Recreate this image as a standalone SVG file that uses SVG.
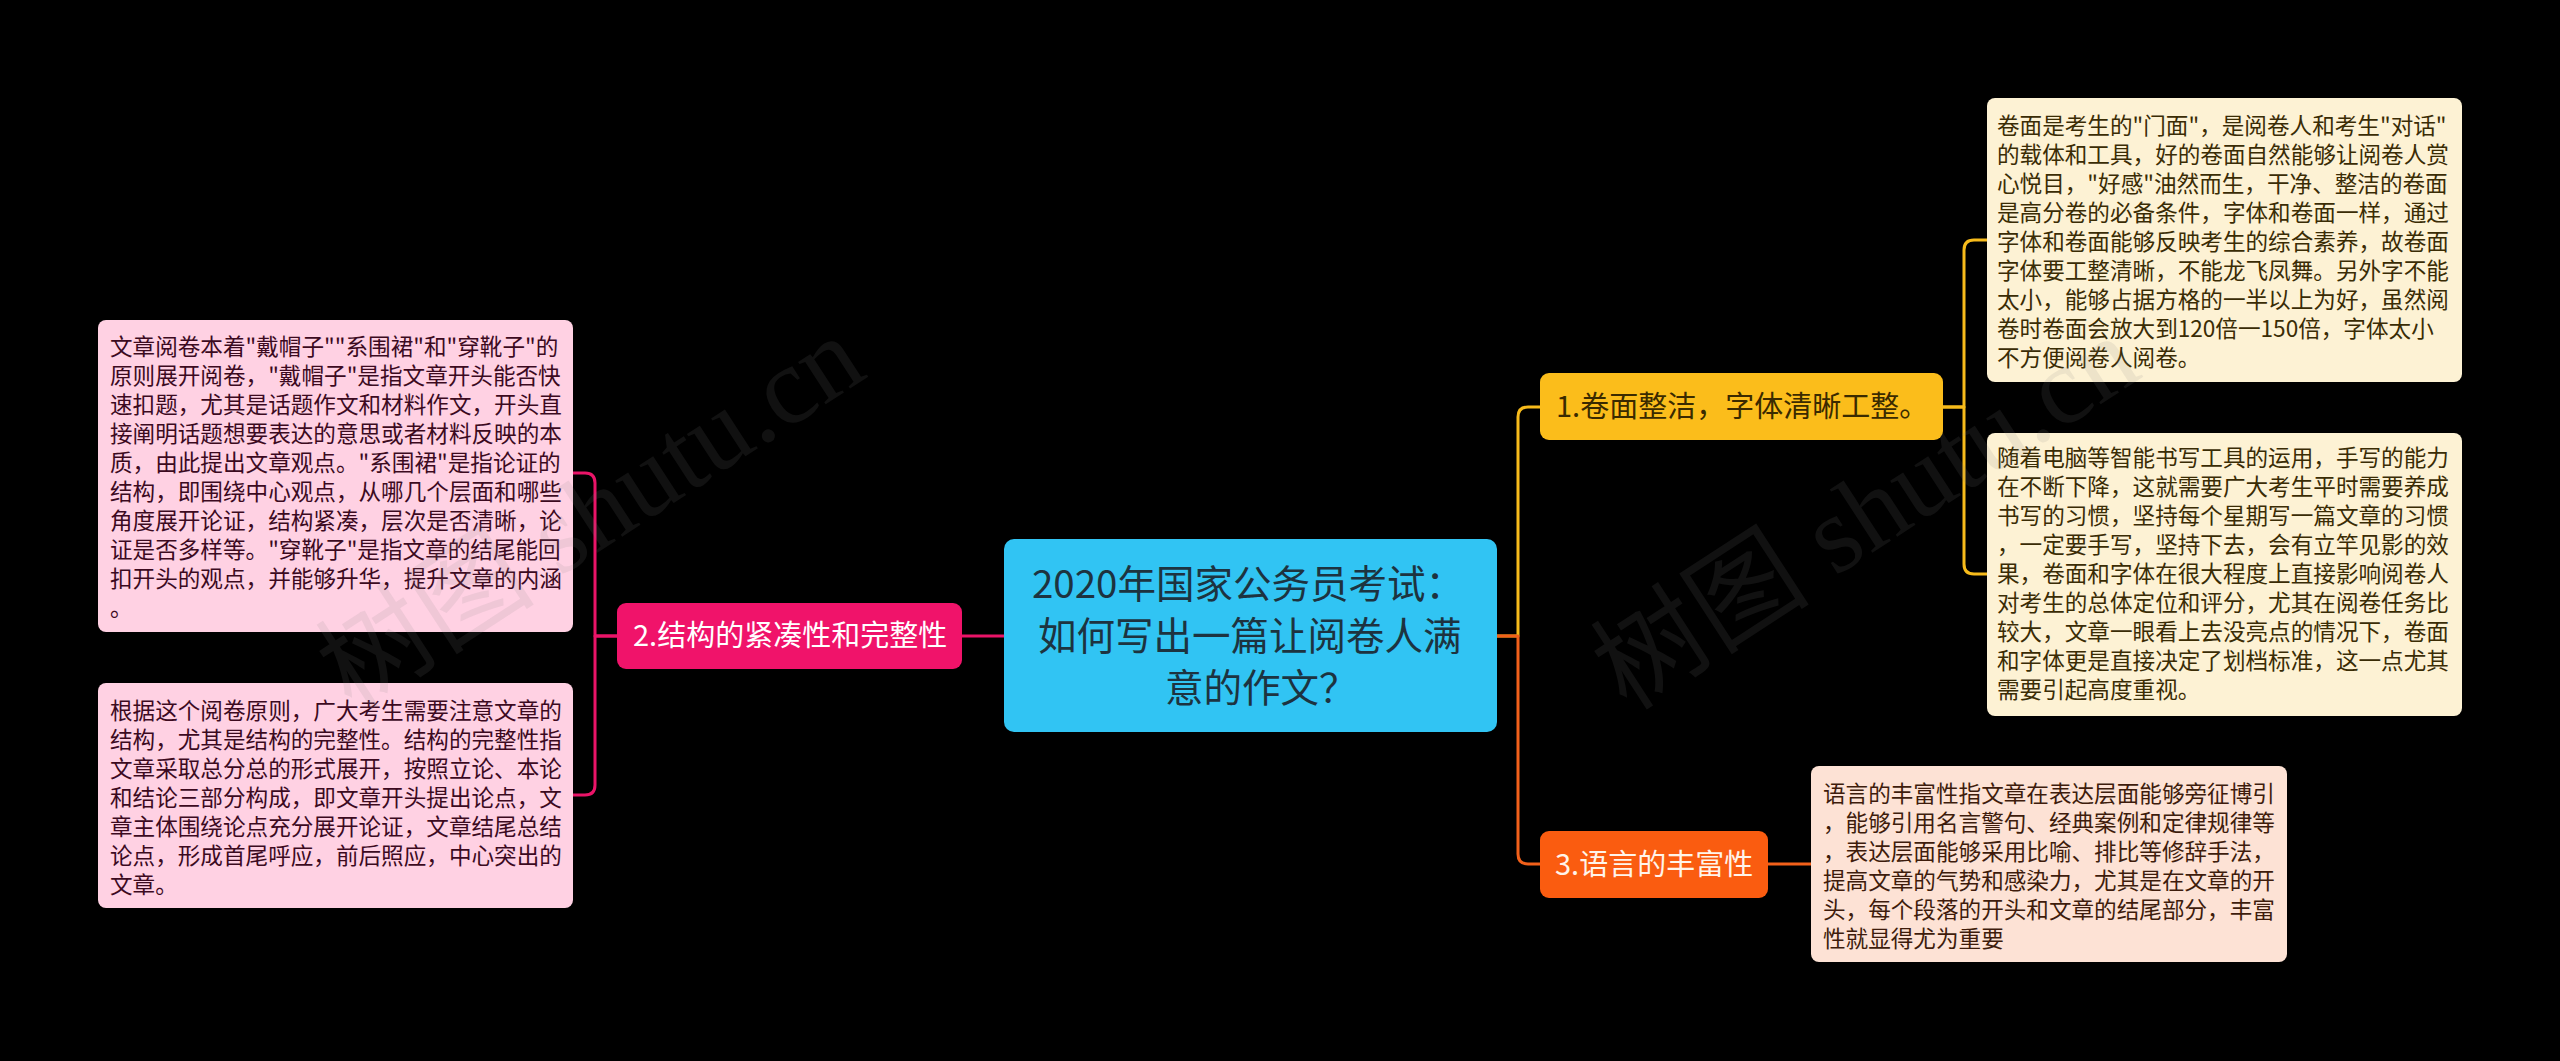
<svg xmlns="http://www.w3.org/2000/svg" width="2560" height="1061" viewBox="0 0 2560 1061">
<style>
text{font-family:"Noto Sans CJK SC","Noto Sans",sans-serif;}
.c{fill:none;stroke-width:3;stroke-linecap:round;stroke-linejoin:round;}
.y{stroke:#f7bb1b;}
.o{stroke:#f2601a;}
.p{stroke:#ea1468;}
.leaf{font-size:22.6px;}
.lp{fill:#3c0a1f;}
.ly{fill:#3a2c05;}
.lo{fill:#3e1c0c;}
.wm{font-family:"Liberation Serif","Noto Sans CJK SC",serif;font-size:110px;fill:#808080;fill-opacity:0.13;}
</style>
<rect x="0" y="0" width="2560" height="1061" fill="#000000"/>
<g id="connectors">
<path class="c y" d="M1497,636 H1518 V417 Q1518,407 1528,407 H1540"/>
<path class="c o" d="M1497,636 H1518 V854 Q1518,864 1528,864 H1540"/>
<path class="c p" d="M1004,636 H962"/>
<path class="c p" d="M617,636 H595 V483 Q595,473 585,473 H573"/>
<path class="c p" d="M617,636 H595 V785 Q595,795 585,795 H573"/>
<path class="c y" d="M1943,407 H1964 V250 Q1964,240 1974,240 H1987"/>
<path class="c y" d="M1943,407 H1964 V564 Q1964,574 1974,574 H1987"/>
<path class="c o" d="M1768,864 H1811"/>
</g>
<g id="center">
<rect x="1004" y="539" width="493" height="193" rx="10" fill="#31c4f3"/>
<text font-size="38.5" fill="#1d3340">
<tspan x="1032" y="598">2020年国家公务员考试：</tspan>
<tspan x="1038" y="650">如何写出一篇让阅卷人满</tspan>
<tspan x="1165" y="702">意的作文？</tspan>
</text>
</g>
<g id="node1">
<rect x="1540" y="373" width="403" height="67" rx="9" fill="#fbbd1b"/>
<text x="1556" y="417" font-size="29" fill="#3a2a00">1.卷面整洁，字体清晰工整。</text>
</g>
<g id="node2">
<rect x="617" y="603" width="345" height="66" rx="9" fill="#f0136a"/>
<text x="633" y="646" font-size="29" fill="#ffffff">2.结构的紧凑性和完整性</text>
</g>
<g id="node3">
<rect x="1540" y="831" width="228" height="67" rx="9" fill="#fa5c10"/>
<text x="1555" y="875" font-size="29" fill="#fff4ea">3.语言的丰富性</text>
</g>
<g id="leaf-l1">
<rect x="98" y="320" width="475" height="312" rx="8" fill="#ffd1e3"/>
<text class="leaf lp">
<tspan x="110" y="355">文章阅卷本着"戴帽子""系围裙"和"穿靴子"的</tspan>
<tspan x="110" y="384">原则展开阅卷，"戴帽子"是指文章开头能否快</tspan>
<tspan x="110" y="413">速扣题，尤其是话题作文和材料作文，开头直</tspan>
<tspan x="110" y="442">接阐明话题想要表达的意思或者材料反映的本</tspan>
<tspan x="110" y="471">质，由此提出文章观点。"系围裙"是指论证的</tspan>
<tspan x="110" y="500">结构，即围绕中心观点，从哪几个层面和哪些</tspan>
<tspan x="110" y="529">角度展开论证，结构紧凑，层次是否清晰，论</tspan>
<tspan x="110" y="558">证是否多样等。"穿靴子"是指文章的结尾能回</tspan>
<tspan x="110" y="587">扣开头的观点，并能够升华，提升文章的内涵</tspan>
<tspan x="110" y="616">。</tspan>
</text>
</g>
<g id="leaf-l2">
<rect x="98" y="683" width="475" height="225" rx="8" fill="#ffd1e3"/>
<text class="leaf lp">
<tspan x="110" y="719">根据这个阅卷原则，广大考生需要注意文章的</tspan>
<tspan x="110" y="748">结构，尤其是结构的完整性。结构的完整性指</tspan>
<tspan x="110" y="777">文章采取总分总的形式展开，按照立论、本论</tspan>
<tspan x="110" y="806">和结论三部分构成，即文章开头提出论点，文</tspan>
<tspan x="110" y="835">章主体围绕论点充分展开论证，文章结尾总结</tspan>
<tspan x="110" y="864">论点，形成首尾呼应，前后照应，中心突出的</tspan>
<tspan x="110" y="893">文章。</tspan>
</text>
</g>
<g id="leaf-r1">
<rect x="1987" y="98" width="475" height="284" rx="8" fill="#fdf2d4"/>
<text class="leaf ly">
<tspan x="1997" y="134">卷面是考生的"门面"，是阅卷人和考生"对话"</tspan>
<tspan x="1997" y="163">的载体和工具，好的卷面自然能够让阅卷人赏</tspan>
<tspan x="1997" y="192">心悦目，"好感"油然而生，干净、整洁的卷面</tspan>
<tspan x="1997" y="221">是高分卷的必备条件，字体和卷面一样，通过</tspan>
<tspan x="1997" y="250">字体和卷面能够反映考生的综合素养，故卷面</tspan>
<tspan x="1997" y="279">字体要工整清晰，不能龙飞凤舞。另外字不能</tspan>
<tspan x="1997" y="308">太小，能够占据方格的一半以上为好，虽然阅</tspan>
<tspan x="1997" y="337">卷时卷面会放大到120倍一150倍，字体太小</tspan>
<tspan x="1997" y="366">不方便阅卷人阅卷。</tspan>
</text>
</g>
<g id="leaf-r2">
<rect x="1987" y="433" width="475" height="283" rx="8" fill="#fdf2d4"/>
<text class="leaf ly">
<tspan x="1997" y="466">随着电脑等智能书写工具的运用，手写的能力</tspan>
<tspan x="1997" y="495">在不断下降，这就需要广大考生平时需要养成</tspan>
<tspan x="1997" y="524">书写的习惯，坚持每个星期写一篇文章的习惯</tspan>
<tspan x="1997" y="553">，一定要手写，坚持下去，会有立竿见影的效</tspan>
<tspan x="1997" y="582">果，卷面和字体在很大程度上直接影响阅卷人</tspan>
<tspan x="1997" y="611">对考生的总体定位和评分，尤其在阅卷任务比</tspan>
<tspan x="1997" y="640">较大，文章一眼看上去没亮点的情况下，卷面</tspan>
<tspan x="1997" y="669">和字体更是直接决定了划档标准，这一点尤其</tspan>
<tspan x="1997" y="698">需要引起高度重视。</tspan>
</text>
</g>
<g id="leaf-r3">
<rect x="1811" y="766" width="476" height="196" rx="8" fill="#fde2d5"/>
<text class="leaf lo">
<tspan x="1823" y="802">语言的丰富性指文章在表达层面能够旁征博引</tspan>
<tspan x="1823" y="831">，能够引用名言警句、经典案例和定律规律等</tspan>
<tspan x="1823" y="860">，表达层面能够采用比喻、排比等修辞手法，</tspan>
<tspan x="1823" y="889">提高文章的气势和感染力，尤其是在文章的开</tspan>
<tspan x="1823" y="918">头，每个段落的开头和文章的结尾部分，丰富</tspan>
<tspan x="1823" y="947">性就显得尤为重要</tspan>
</text>
</g>
<g id="watermarks">
<text class="wm" transform="translate(352,712) rotate(-33)">树图 shutu.cn</text>
<text class="wm" transform="translate(1627,712) rotate(-33)">树图 shutu.cn</text>
</g>
</svg>
